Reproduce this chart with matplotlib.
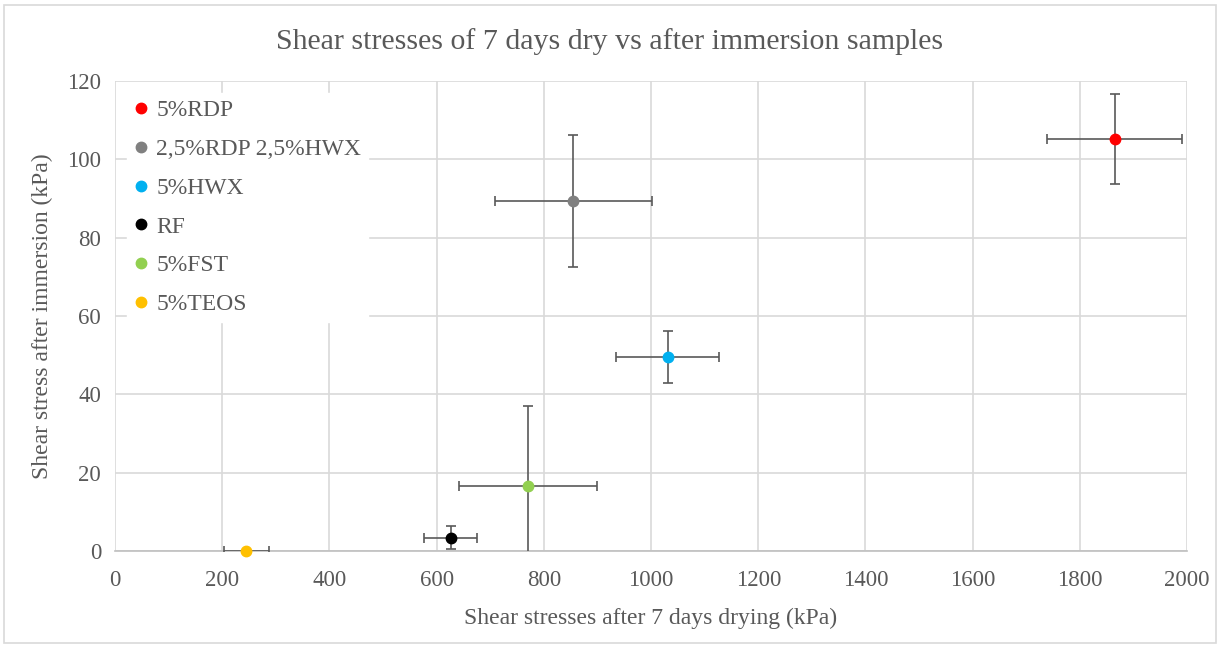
import matplotlib.pyplot as plt
from matplotlib.patches import Rectangle

# data
labels = ["5%RDP", "2,5%RDP 2,5%HWX", "5%HWX", "RF", "5%FST", "5%TEOS"]
colors = ["#FF0000", "#808080", "#00B0F0", "#000000", "#92D050", "#FFC000"]
dry = [1865, 855, 1031, 626, 770, 245]
dry_err = [126, 147, 96, 50, 129, 42]
wet = [105.3, 89.4, 49.6, 3.4, 16.7, 0.0]
wet_err = [11.5, 16.8, 6.6, 3.0, 20.4, 0.0]

plt.rcParams['font.family'] = ['Liberation Serif', 'DejaVu Serif']
txt = '#595959'

fig = plt.figure(figsize=(12.2, 6.46), dpi=100)
ax = fig.add_axes([0.0943, 0.147, 0.8787, 0.7276])

for i in range(len(labels)):
    ax.errorbar(dry[i], wet[i], xerr=dry_err[i], yerr=wet_err[i],
                fmt='none', ecolor='#595959', elinewidth=1.2, capsize=3.5,
                capthick=1.2, zorder=3)
    ax.plot(dry[i], wet[i], 'o', color=colors[i], markersize=7.5,
            label=labels[i], zorder=4, clip_on=False)

ax.set_xlim(0, 2000)
ax.set_ylim(0, 120)
ax.set_xticks(range(0, 2001, 200))
ax.set_yticks(range(0, 121, 20))
ax.grid(True, color='#D9D9D9', linewidth=1.2, zorder=0)
ax.set_axisbelow(True)
for s in ['top', 'right', 'left']:
    ax.spines[s].set_visible(False)
ax.spines['bottom'].set_color('#BFBFBF')
ax.spines['bottom'].set_linewidth(1.2)
ax.tick_params(axis='x', length=0, labelsize=16.5, labelcolor=txt, pad=14)
ax.tick_params(axis='y', length=0, labelsize=16.5, labelcolor=txt, pad=10)

ax.set_xlabel("Shear stresses after 7 days drying (kPa)", fontsize=17, color=txt, labelpad=12)
ax.set_ylabel("Shear stress after immersion (kPa)", fontsize=17, color=txt, labelpad=10)
fig.text(0.5, 0.935, "Shear stresses of 7 days dry vs after immersion samples",
         ha='center', va='center', fontsize=21.5, color=txt)

leg = ax.legend(loc='upper left', bbox_to_anchor=(0.0, 1.0), frameon=True,
                fancybox=False, framealpha=1, edgecolor='white', facecolor='white',
                fontsize=17, handlelength=0.6, handletextpad=0.35, labelspacing=0.73,
                borderpad=0.3)
for t in leg.get_texts():
    t.set_color(txt)
leg.set_zorder(5)

# chart area border
fig.patches.append(Rectangle((0.003, 0.005), 0.994, 0.987, transform=fig.transFigure,
                             fill=False, edgecolor='#D9D9D9', linewidth=1.2))

fig.savefig("out.png", dpi=100)
